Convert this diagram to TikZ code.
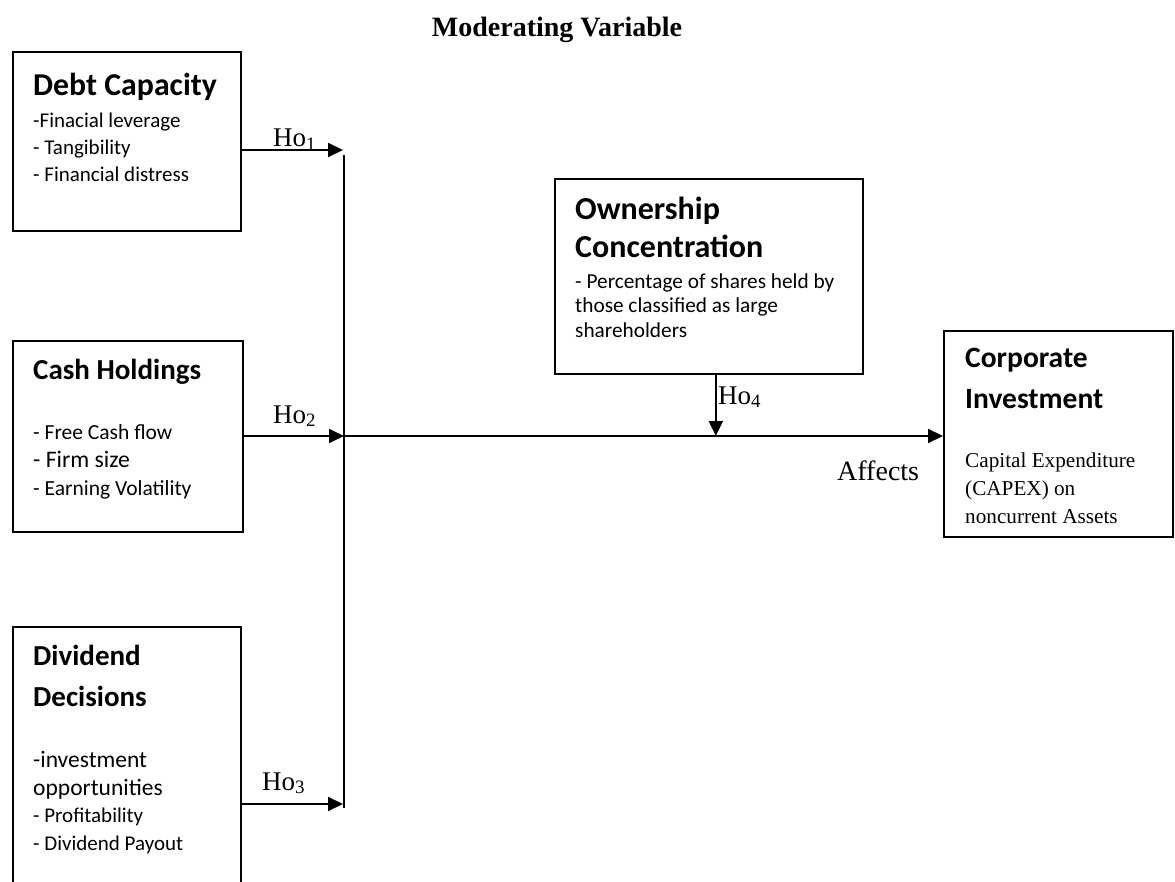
\documentclass[tikz,border=0pt]{standalone}
\usepackage{fontspec}
\setmainfont{Liberation Serif}
\newfontfamily\calibri{Carlito}
\usetikzlibrary{arrows.meta,positioning}

\begin{document}
\begin{tikzpicture}[x=1pt,y=-1pt,
  box/.style={draw, line width=1.6pt, rectangle, anchor=north west, inner sep=0pt},
  ttl/.style={anchor=base west, inner sep=0pt, align=left, font={\calibri\bfseries\fontsize{29}{40}\selectfont}},
  lst/.style={anchor=base west, inner sep=0pt, align=left, font={\calibri\fontsize{21}{27}\selectfont}},
  hyp/.style={anchor=base west, inner sep=0pt, font={\fontsize{27}{30}\selectfont}},
  arr/.style={line width=2pt, -{Triangle[length=15pt,width=14pt]}}]
\useasboundingbox (0,0) rectangle (1175,882);
\node[font={\bfseries\fontsize{28}{30}\selectfont}, anchor=base, inner sep=0pt] (title) at (557,37) {Moderating Variable};
% independent variables (multi-line texts sit on their last baseline)
\node[box, minimum width=228pt, minimum height=179pt] (debt) at (12,51) {};
\node[ttl, font={\calibri\bfseries\fontsize{31.8}{40}\selectfont}] (debtttl) at (33,96) {Debt Capacity};
\node[lst] (debtlst) at (33,182) {-Finacial leverage\\- Tangibility\\- Financial distress};
\node[box, minimum width=230pt, minimum height=191pt] (cash) at (12,340) {};
\node[ttl] (cashttl) at (33,379) {Cash Holdings};
\node[lst, font={\calibri\fontsize{21.5}{28}\selectfont}] (cashlst) at (33,495) {- Free Cash flow\\{\fontsize{23.7}{28}\selectfont - Firm size}\\- Earning Volatility};
\node[box, minimum width=228pt, minimum height=280pt] (divd) at (12,626) {};
\node[ttl, font={\calibri\bfseries\fontsize{29}{41}\selectfont}] (divdttl) at (33,706) {Dividend\\Decisions};
\node[lst, font={\calibri\fontsize{21}{27.5}\selectfont}] (divdlst) at (33,850) {{\fontsize{23.5}{29}\selectfont -investment}\\{\fontsize{23.5}{29}\selectfont opportunities}\\- Profitability\\- Dividend Payout};
% moderating variable
\node[box, minimum width=308pt, minimum height=195pt] (own) at (554,178) {};
\node[ttl, font={\calibri\bfseries\fontsize{32}{38}\selectfont}] (ownttl) at (575,258) {Ownership\\Concentration};
\node[lst, font={\calibri\fontsize{21.3}{25}\selectfont}] (ownlst) at (575,338) {- Percentage of shares held by\\those classified as large\\shareholders};
% dependent variable
\node[box, minimum width=229pt, minimum height=206pt] (corp) at (943,330) {};
\node[ttl, font={\calibri\bfseries\fontsize{29.5}{40}\selectfont}] (corpttl) at (965,408) {Corporate\\Investment};
\node[anchor=base west, inner sep=0pt, align=left, font={\fontsize{21.2}{28}\selectfont}] (corplst) at (965,523) {Capital Expenditure\\(CAPEX) on\\noncurrent Assets};
% connectors
\coordinate (j1) at (343,150);
\coordinate (j2) at (344,436);
\coordinate (j3) at (343,804);
\coordinate (vtop) at (344,155);
\coordinate (vbot) at (344,808);
\draw[line width=1.6pt] (vtop) -- (vbot);
\draw[arr] (debt.east |- j1) -- (j1);
\draw[arr] (cash.east |- j2) -- (j2);
\draw[arr] (divd.east |- j3) -- (j3);
\draw[arr] (j2) -- (corp.west |- j2);
\draw[arr] ([xshift=7pt]own.south) -- ([xshift=7pt]own.south |- j2);
\node[hyp] (ho1) at (273,147) {Ho\textsubscript{1}};
\node[hyp] (ho2) at (273,423) {Ho\textsubscript{2}};
\node[hyp] (ho3) at (262,790) {Ho\textsubscript{3}};
\node[hyp] (ho4) at (718,404) {Ho\textsubscript{4}};
\node[hyp, font={\fontsize{28}{30}\selectfont}] (aff) at (837,480) {Affects};
\end{tikzpicture}
\end{document}
